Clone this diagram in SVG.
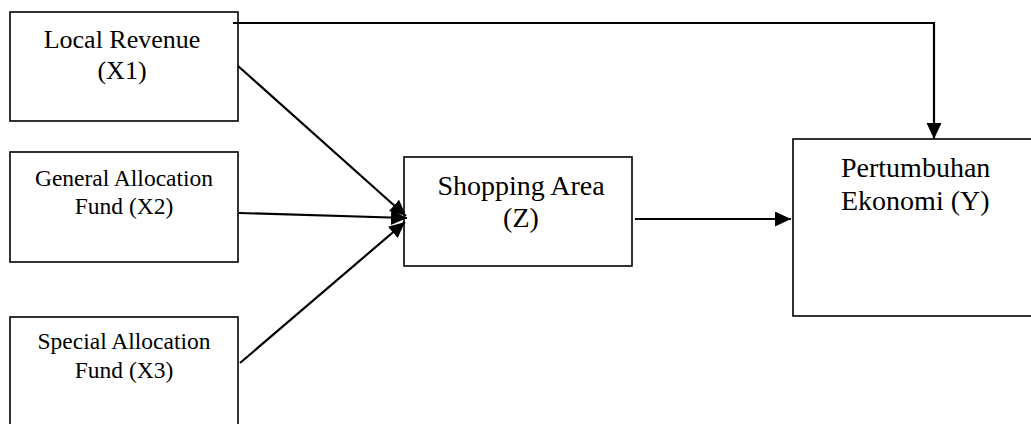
<svg xmlns="http://www.w3.org/2000/svg" width="1031" height="424" viewBox="0 0 1031 424">
<defs>
<style>
.box{fill:#fff;stroke:#000;stroke-width:1.6}
.t{font-family:"Liberation Serif","Times New Roman",serif;fill:#000}
.c{text-anchor:middle}
.con{fill:none;stroke:#000;stroke-width:2.2}
</style>
<marker id="ah" markerUnits="userSpaceOnUse" markerWidth="17" markerHeight="16" refX="16" refY="7.5" orient="auto" viewBox="0 0 17 16">
<path d="M0,0 L16,7.5 L0,15 z" fill="#000"/>
</marker>
</defs>
<rect width="1031" height="424" fill="#fff"/>
<g id="node-x1">
<rect class="box" x="10" y="12" width="228" height="109"/>
<text class="t c" x="122" y="48" font-size="26">Local Revenue</text>
<text class="t c" x="122" y="79" font-size="26">(X1)</text>
</g>
<g id="node-x2">
<rect class="box" x="10" y="152" width="228" height="110"/>
<text class="t c" x="124" y="186" font-size="23.5">General Allocation</text>
<text class="t c" x="124" y="214" font-size="23.5">Fund (X2)</text>
</g>
<g id="node-x3">
<rect class="box" x="10" y="317" width="228" height="120"/>
<text class="t c" x="124" y="349" font-size="23.5">Special Allocation</text>
<text class="t c" x="124" y="378" font-size="23.5">Fund (X3)</text>
</g>
<g id="node-z">
<rect class="box" x="404" y="157" width="228" height="109"/>
<text class="t c" x="521" y="195" font-size="28">Shopping Area</text>
<text class="t c" x="521" y="227" font-size="28">(Z)</text>
</g>
<g id="node-y">
<rect class="box" x="793" y="139" width="245" height="177"/>
<text class="t" x="841" y="177" font-size="28">Pertumbuhan</text>
<text class="t" x="841" y="210" font-size="28">Ekonomi (Y)</text>
</g>
<g id="connectors">
<polyline class="con" points="233,23 934,23 934,139" marker-end="url(#ah)"/>
<line class="con" x1="238" y1="66" x2="406" y2="216" marker-end="url(#ah)"/>
<line class="con" x1="239" y1="213" x2="407" y2="218" marker-end="url(#ah)"/>
<line class="con" x1="240" y1="363" x2="405" y2="222" marker-end="url(#ah)"/>
<line class="con" x1="635" y1="219" x2="791" y2="219" marker-end="url(#ah)"/>
</g>
</svg>
